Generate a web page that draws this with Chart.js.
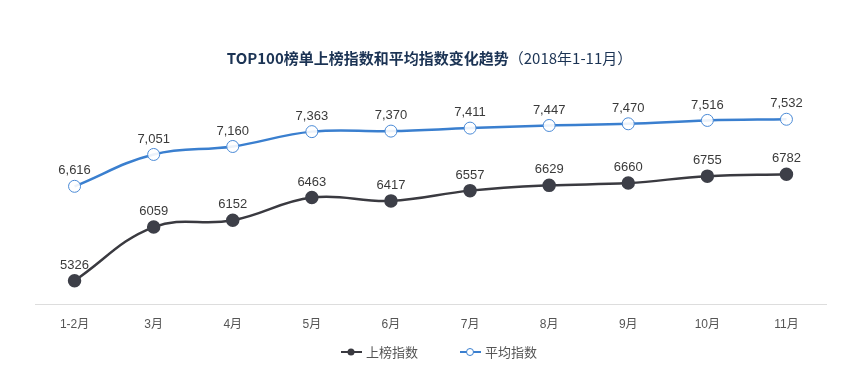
<!DOCTYPE html>
<html>
<head>
<meta charset="utf-8">
<script src="https://cdn.jsdelivr.net/npm/chart.js@4"></script>
<style>
  body { margin: 0; background: #fff; }
  #wrap { width: 865px; height: 376px; }
</style>
</head>
<body>
<div id="wrap"><canvas id="c"></canvas></div>
<script>
const months = ['1-2月', '3月', '4月', '5月', '6月', '7月', '8月', '9月', '10月', '11月'];
const listIndex = [5326, 6059, 6152, 6463, 6417, 6557, 6629, 6660, 6755, 6782];
const avgIndex = [6616, 7051, 7160, 7363, 7370, 7411, 7447, 7470, 7516, 7532];

const FONT = '"Noto Sans CJK SC", "Liberation Sans", sans-serif';
const LATIN = '"Liberation Sans", "Noto Sans CJK SC", sans-serif';

const titlePlugin = {
    id: 'mixedTitle',
    afterDraw(chart) {
        const ctx = chart.ctx;
        const a = 'TOP100榜单上榜指数和平均指数变化趋势';
        const b = '（2018年1-11月）';
        ctx.save();
        ctx.textBaseline = 'middle';
        ctx.fillStyle = '#1b3354';
        ctx.font = 'bold 15px ' + FONT;
        const wa = ctx.measureText(a).width;
        ctx.font = '15px ' + FONT;
        const wb = ctx.measureText(b).width;
        let x = chart.width / 2 - (wa + wb) / 2 - 3;
        ctx.font = 'bold 15px ' + FONT;
        ctx.fillText(a, x, 58);
        ctx.font = '15px ' + FONT;
        ctx.fillText(b, x + wa, 58);
        ctx.restore();
    }
};

//values above the points
const valueLabels = {
    id: 'valueLabels',
    afterDatasetsDraw(chart) {
        const ctx = chart.ctx;
        ctx.save();
        ctx.font = '13px ' + LATIN;
        ctx.fillStyle = '#3a3a3a';
        ctx.textAlign = 'center';
        ctx.textBaseline = 'bottom';
        chart.data.datasets.forEach((ds, i) => {
            chart.getDatasetMeta(i).data.forEach((pt, j) => {
                const v = ds.data[j];
                const txt = ds.commas ? v.toLocaleString('en-US') : String(v);
                ctx.fillText(txt, pt.x, pt.y - 9);
            });
        });
        ctx.restore();
    }
};

//bottom legend: line with a dot, then the name
const legendPlugin = {
    id: 'bottomLegend',
    afterDraw(chart) {
        const ctx = chart.ctx;
        const y = 352;
        const starts = [341, 460];
        ctx.save();
        ctx.font = '13px ' + FONT;
        ctx.textBaseline = 'middle';
        chart.data.datasets.forEach((ds, i) => {
            const x = starts[i];
            ctx.strokeStyle = ds.borderColor;
            ctx.lineWidth = 2;
            ctx.beginPath(); ctx.moveTo(x, y); ctx.lineTo(x + 21, y); ctx.stroke();
            ctx.beginPath();
            ctx.arc(x + 10, y, 3.5, 0, Math.PI * 2);
            ctx.fillStyle = ds.commas ? '#fff' : ds.borderColor;
            ctx.fill();
            if (ds.commas) { ctx.lineWidth = 1; ctx.stroke(); }
            ctx.fillStyle = '#555';
            ctx.fillText(ds.label, x + 25, y);
        });
        ctx.restore();
    }
};

new Chart(document.getElementById('c'), {
    type: 'line',
    data: {
        labels: months,
        datasets: [
            {
                label: '上榜指数',
                data: listIndex,
                borderColor: '#3a3a40',
                borderWidth: 2.5,
                pointRadius: 5.5,
                pointBackgroundColor: '#3d3f48',
                pointBorderColor: '#3d3f48',
                tension: 0.4,
                fill: false
            },
            {
                label: '平均指数',
                data: avgIndex,
                commas: true,
                borderColor: '#3a7fcf',
                borderWidth: 2.5,
                pointRadius: 6,
                pointBackgroundColor: 'rgba(255,255,255,0.9)',
                pointBorderColor: '#4a8ad6',
                pointBorderWidth: 1,
                tension: 0.4,
                fill: false
            }
        ]
    },
    options: {
        responsive: true,
        maintainAspectRatio: false,
        animation: false,
        layout: { padding: { top: 85, left: 35, right: 39, bottom: 39 } },
        plugins: {
            legend: { display: false },
            tooltip: { enabled: false }
        },
        scales: {
            x: {
                offset: true,
                grid: { display: false },
                border: { color: '#dddddd' },
                ticks: { color: '#555', font: { size: 12, family: LATIN }, padding: 5 }
            },
            y: {
                display: false,
                min: 5000,
                max: 8000
            }
        }
    },
    plugins: [titlePlugin, valueLabels, legendPlugin]
});
</script>
</body>
</html>
